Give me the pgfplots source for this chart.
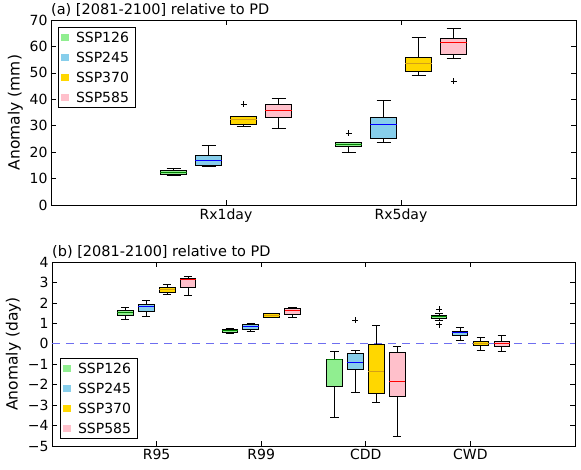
\documentclass[border=0pt]{standalone}
\usepackage{fontspec}
\setmainfont{DejaVu Sans}
\usepackage{pgfplots}
\pgfplotsset{compat=1.18}
\usepgfplotslibrary{statistics}
\definecolor{cG}{HTML}{90EE90}
\definecolor{cB}{HTML}{87CEEB}
\definecolor{cY}{HTML}{FFD700}
\definecolor{cP}{HTML}{FFC0CB}
\definecolor{mG}{HTML}{008000}
\definecolor{mB}{HTML}{0000FF}
\definecolor{mY}{HTML}{D4A017}
\definecolor{mP}{HTML}{FF0000}
\definecolor{dl}{RGB}{110,110,240}
\newcommand{\bp}[8]{\addplot[forget plot, mark=+, mark size=3pt, mark options={black, line width=0.6pt}, draw=black, line width=0.8pt,
  boxplot/draw direction=y,
  boxplot prepared={draw position=#1, lower whisker=#2, lower quartile=#3, median=#4, upper quartile=#5, upper whisker=#6,
  box extend=0.15, whisker extend=0.08, every box/.style={draw=black, fill=#7}, every median/.style={draw=#8, line width=1pt}}]}
\pgfplotsset{
  sqG/.style={legend image code/.code={\fill[cG] (0pt,-3pt) rectangle (7pt,3pt); \path (0pt,0pt) (11pt,0pt);}},
  sqB/.style={legend image code/.code={\fill[cB] (0pt,-3pt) rectangle (7pt,3pt); \path (0pt,0pt) (11pt,0pt);}},
  sqY/.style={legend image code/.code={\fill[cY] (0pt,-3pt) rectangle (7pt,3pt); \path (0pt,0pt) (11pt,0pt);}},
  sqP/.style={legend image code/.code={\fill[cP] (0pt,-3pt) rectangle (7pt,3pt); \path (0pt,0pt) (11pt,0pt);}},
  common/.style={scale only axis, tick align=inside, major tick length=5pt,
    tick style={black, line width=0.6pt}, axis line style={line width=0.8pt},
    tick label style={font=\fontsize{14}{16}\selectfont},
    label style={font=\fontsize{15.5}{18}\selectfont},
    title style={at={(0,1)}, anchor=base west, yshift=0pt, inner sep=0pt, font=\fontsize{14.5}{17}\selectfont},
    legend style={draw=black, line width=0.8pt, font=\fontsize{14}{16}\selectfont, inner xsep=3pt, inner ysep=2pt,
      nodes={text height=10pt, text depth=0pt, inner sep=3pt}, row sep=4pt},
    legend cell align=left,
  },
}
\begin{document}
\begin{tikzpicture}
\begin{axis}[common, at={(0pt,0pt)}, anchor=north west, width=525pt, height=185pt,
  xmin=0, xmax=3, ymin=0, ymax=70, xtick={1,2}, xticklabels={Rx1day,Rx5day},
  ytick={0,10,...,70}, yticklabels={0,10,20,30,40,50,60,70},
  ylabel={Anomaly (mm)}, title={(a) [2081-2100] relative to PD},
  legend style={at={(0.013,0.962)}, anchor=north west}]
\addlegendimage{sqG}\addlegendentry{SSP126}
\addlegendimage{sqB}\addlegendentry{SSP245}
\addlegendimage{sqY}\addlegendentry{SSP370}
\addlegendimage{sqP}\addlegendentry{SSP585}
\bp{0.7}{11.1}{11.7}{12.4}{13.0}{13.9}{cG}{mG} coordinates {};
\bp{0.9}{14.7}{14.9}{17.0}{18.9}{22.7}{cB}{mB} coordinates {};
\bp{1.1}{29.6}{30.6}{32.5}{33.4}{33.5}{cY}{mY} coordinates {(0,38.1)};
\bp{1.3}{29.0}{33.2}{35.9}{38.1}{40.4}{cP}{mP} coordinates {};
\bp{1.7}{19.8}{22.1}{23.0}{23.6}{23.8}{cG}{mG} coordinates {(0,27.1)};
\bp{1.9}{23.7}{25.3}{30.4}{33.0}{39.5}{cB}{mB} coordinates {};
\bp{2.1}{48.9}{50.6}{53.6}{56.0}{63.3}{cY}{mY} coordinates {};
\bp{2.3}{55.4}{57.0}{61.5}{62.9}{66.8}{cP}{mP} coordinates {(0,46.8)};
\end{axis}
\begin{axis}[common, at={(1pt,-242pt)}, anchor=north west, width=523pt, height=184pt,
  xmin=0, xmax=5, ymin=-5, ymax=4, xtick={1,2,3,4}, xticklabels={R95,R99,CDD,CWD},
  ytick={-5,-4,...,4}, yticklabels={−5,−4,−3,−2,−1,0,1,2,3,4},
  ylabel={Anomaly (day)}, title={(b) [2081-2100] relative to PD},
  legend style={at={(0.015,0.038)}, anchor=south west}]
\addlegendimage{sqG}\addlegendentry{SSP126}
\addlegendimage{sqB}\addlegendentry{SSP245}
\addlegendimage{sqY}\addlegendentry{SSP370}
\addlegendimage{sqP}\addlegendentry{SSP585}
\addplot[forget plot, draw=dl, line width=1pt, dash pattern=on 8pt off 6pt] coordinates {(0,0) (5,0)};
\bp{0.7}{1.2}{1.4}{1.52}{1.65}{1.8}{cG}{mG} coordinates {};
\bp{0.9}{1.33}{1.59}{1.84}{1.93}{2.1}{cB}{mB} coordinates {};
\bp{1.1}{2.42}{2.5}{2.67}{2.78}{2.91}{cY}{mY} coordinates {};
\bp{1.3}{2.37}{2.78}{3.14}{3.19}{3.32}{cP}{mP} coordinates {};
\bp{1.7}{0.53}{0.55}{0.63}{0.71}{0.75}{cG}{mG} coordinates {};
\bp{1.9}{0.63}{0.71}{0.83}{0.94}{1.0}{cB}{mB} coordinates {};
\bp{2.1}{1.28}{1.30}{1.40}{1.47}{1.5}{cY}{mY} coordinates {};
\bp{2.3}{1.27}{1.46}{1.64}{1.72}{1.77}{cP}{mP} coordinates {};
\bp{2.7}{-3.6}{-2.07}{-0.77}{-0.75}{-0.38}{cG}{mG} coordinates {};
\bp{2.9}{-2.37}{-1.26}{-0.91}{-0.47}{-0.34}{cB}{mB} coordinates {(0,1.15)};
\bp{3.1}{-2.85}{-2.41}{-1.37}{-0.05}{0.89}{cY}{mY} coordinates {};
\bp{3.3}{-4.51}{-2.56}{-1.83}{-0.43}{-0.12}{cP}{mP} coordinates {};
\bp{3.7}{1.15}{1.23}{1.33}{1.39}{1.48}{cG}{mG} coordinates {(0,1.70) (0,0.94)};
\bp{3.9}{0.18}{0.42}{0.53}{0.63}{0.79}{cB}{mB} coordinates {};
\bp{4.1}{-0.31}{-0.10}{0.03}{0.13}{0.32}{cY}{mY} coordinates {};
\bp{4.3}{-0.36}{-0.13}{0.01}{0.13}{0.40}{cP}{mP} coordinates {};
\end{axis}
\pgfresetboundingbox
\path[use as bounding box] (-51pt,20pt) rectangle (530pt,-449pt);
\end{tikzpicture}
\end{document}
